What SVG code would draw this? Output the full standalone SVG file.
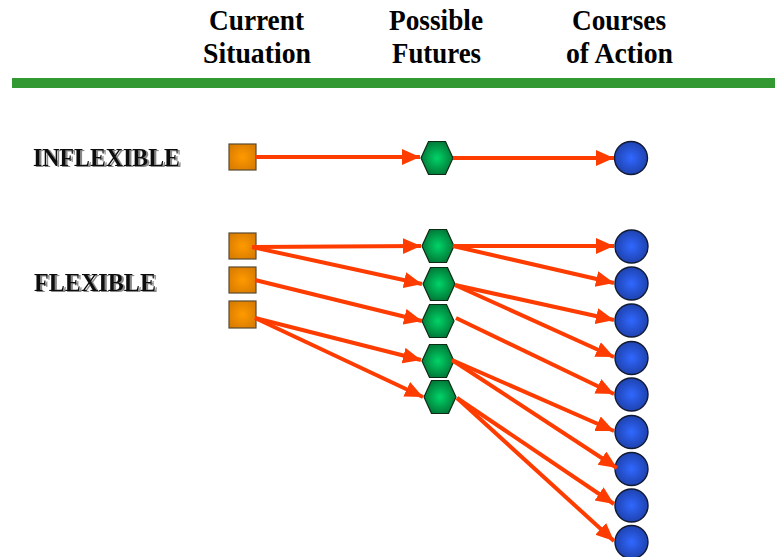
<svg xmlns="http://www.w3.org/2000/svg" width="775" height="557" viewBox="0 0 775 557">
<style>
.hdr{font-family:"Liberation Serif","Times New Roman",serif;font-weight:bold;font-size:29px;fill:#000;text-anchor:middle}
.lbl{font-family:"Liberation Serif","Times New Roman",serif;font-weight:bold;font-size:25px;fill:#111;filter:url(#shd)}
.sq{fill:url(#gO);stroke:#5a4a30;stroke-width:1.2}
.hx{fill:url(#gG);stroke:#0d2a14;stroke-width:1.2}
.ci{fill:url(#gB);stroke:#111a33;stroke-width:1.4}
.ar{stroke:#ff3c00;stroke-width:4;fill:none;marker-end:url(#ah)}
</style>
<defs>
<filter id="shd" x="-5%" y="-20%" width="115%" height="150%"><feDropShadow dx="2" dy="1" stdDeviation="0.4" flood-color="#888" flood-opacity="1"/></filter>
<radialGradient id="gO" cx="50%" cy="50%" r="60%"><stop offset="0" stop-color="#ff9a00"/><stop offset="1" stop-color="#d97c00"/></radialGradient>
<radialGradient id="gG" cx="50%" cy="50%" r="60%"><stop offset="0" stop-color="#00d468"/><stop offset="1" stop-color="#006b30"/></radialGradient>
<radialGradient id="gB" cx="50%" cy="50%" r="55%"><stop offset="0" stop-color="#3068ff"/><stop offset="1" stop-color="#1d3fa8"/></radialGradient>
<marker id="ah" markerUnits="userSpaceOnUse" markerWidth="19" markerHeight="17" refX="18" refY="8" orient="auto"><path d="M0,0 L18,8 L0,16 z" fill="#ff3c00"/></marker>
<polygon id="hex" points="-16,0 -8.5,-16.5 8.5,-16.5 16,0 8.5,16.5 -8.5,16.5"/>
</defs>
<rect width="775" height="557" fill="#fff"/>
<g id="header">
<text class="hdr" x="256.5" y="30" textLength="95" lengthAdjust="spacingAndGlyphs">Current</text>
<text class="hdr" x="257" y="63" textLength="108" lengthAdjust="spacingAndGlyphs">Situation</text>
<text class="hdr" x="436" y="30" textLength="94" lengthAdjust="spacingAndGlyphs">Possible</text>
<text class="hdr" x="436.5" y="63" textLength="89" lengthAdjust="spacingAndGlyphs">Futures</text>
<text class="hdr" x="619" y="30" textLength="94" lengthAdjust="spacingAndGlyphs">Courses</text>
<text class="hdr" x="619.5" y="63" textLength="107" lengthAdjust="spacingAndGlyphs">of Action</text>
<rect x="12" y="78" width="763" height="10" fill="#339933"/>
</g>
<g id="labels">
<text class="lbl" x="33" y="166" textLength="147" lengthAdjust="spacingAndGlyphs">INFLEXIBLE</text>
<text class="lbl" x="34" y="291" textLength="122" lengthAdjust="spacingAndGlyphs">FLEXIBLE</text>
</g>
<g id="nodes">
<g id="s0"><rect class="sq" x="229" y="144" width="27" height="26"/></g>
<g id="s1"><rect class="sq" x="229" y="233" width="27" height="26"/></g>
<g id="s2"><rect class="sq" x="229" y="267" width="27" height="26"/></g>
<g id="s3"><rect class="sq" x="229" y="301" width="27" height="27"/></g>
<g id="h0"><use href="#hex" class="hx" x="437" y="158"/></g>
<g id="h1"><use href="#hex" class="hx" x="438" y="246"/></g>
<g id="h2"><use href="#hex" class="hx" x="439" y="284"/></g>
<g id="h3"><use href="#hex" class="hx" x="438" y="321"/></g>
<g id="h4"><use href="#hex" class="hx" x="438" y="361"/></g>
<g id="h5"><use href="#hex" class="hx" x="440" y="397"/></g>
<g id="c0"><circle class="ci" cx="631" cy="158" r="16.5"/></g>
<g id="c1"><circle class="ci" cx="631.5" cy="246.5" r="16.5"/></g>
<g id="c2"><circle class="ci" cx="631.5" cy="283.5" r="16.5"/></g>
<g id="c3"><circle class="ci" cx="631.5" cy="320.5" r="16.5"/></g>
<g id="c4"><circle class="ci" cx="631.5" cy="358" r="16.5"/></g>
<g id="c5"><circle class="ci" cx="631.5" cy="394.5" r="16.5"/></g>
<g id="c6"><circle class="ci" cx="631.5" cy="432" r="16.5"/></g>
<g id="c7"><circle class="ci" cx="631.5" cy="469" r="16.5"/></g>
<g id="c8"><circle class="ci" cx="631.5" cy="505.5" r="16.5"/></g>
<g id="c9"><circle class="ci" cx="631.5" cy="542" r="16.5"/></g>
</g>
<g id="connectors">
<line class="ar" x1="256" y1="157" x2="420" y2="157"/>
<line class="ar" x1="453" y1="158" x2="614" y2="158"/>
<line class="ar" x1="252" y1="247" x2="421" y2="246"/>
<line class="ar" x1="252" y1="247" x2="422" y2="284"/>
<line class="ar" x1="255" y1="280" x2="422" y2="321"/>
<line class="ar" x1="255" y1="318" x2="421" y2="360"/>
<line class="ar" x1="255" y1="318" x2="423" y2="397"/>
<line class="ar" x1="453" y1="246" x2="614" y2="246"/>
<line class="ar" x1="453" y1="246" x2="614" y2="283"/>
<line class="ar" x1="455" y1="285" x2="614" y2="320"/>
<line class="ar" x1="455" y1="285" x2="614" y2="357"/>
<line class="ar" x1="456" y1="318" x2="614" y2="394"/>
<line class="ar" x1="452" y1="360" x2="614" y2="431"/>
<line class="ar" x1="452" y1="360" x2="617" y2="468"/>
<line class="ar" x1="457" y1="398" x2="614" y2="504"/>
<line class="ar" x1="457" y1="398" x2="614" y2="541"/>
</g>
</svg>
